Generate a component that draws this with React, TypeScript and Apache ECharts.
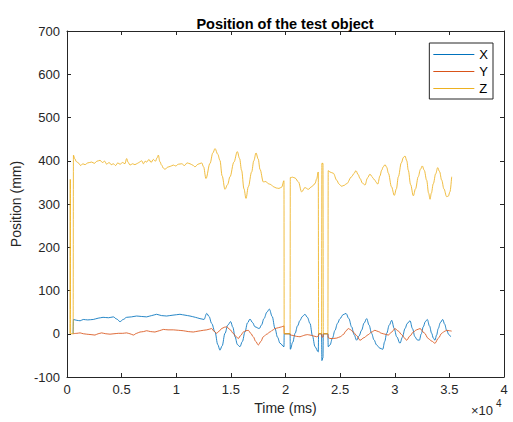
import React, { useEffect, useRef } from "react";
import * as echarts from "echarts";

// time (ms), value (mm)
const zData: [number, number][] = [
  [270, 0], [300, 357], [330, 0], [560, 0], [590, 413], [700, 405], [860, 398], [1035, 395], [1250, 389], [1450, 393], [1650, 391],
  [1900, 395], [2260, 397], [2500, 394], [2750, 399], [3020, 401], [3250, 396], [3450, 399], [3630, 392], [3850, 396], [4050, 391],
  [4240, 393], [4450, 389], [4650, 395], [4850, 392], [5100, 396], [5300, 393], [5460, 405], [5600, 396], [5770, 390], [6000, 393],
  [6220, 391], [6450, 394], [6650, 397], [6830, 400], [7000, 393], [7150, 399], [7290, 397], [7500, 403], [7700, 396], [7900, 403],
  [8100, 399], [8250, 407], [8360, 413], [8500, 398], [8660, 390], [8820, 383], [8970, 380], [9200, 385], [9450, 387], [9730, 390],
  [9950, 388], [10200, 392], [10500, 393], [10750, 389], [11000, 395], [11260, 393], [11500, 390], [11716, 386], [12000, 392],
  [12330, 395], [12500, 386], [12720, 359], [13090, 394], [13350, 418], [13550, 428], [13800, 415], [14000, 401], [14200, 365],
  [14460, 334], [14700, 345], [14920, 363], [15280, 397], [15590, 421], [15800, 405], [15980, 378], [16200, 335], [16385, 313],
  [16600, 340], [16900, 374], [17100, 400], [17300, 418], [17500, 404], [17670, 380], [17970, 351], [18200, 352], [18430, 347],
  [18650, 345], [18900, 340], [19150, 337], [19400, 336], [19650, 339], [19860, 354], [19880, 0], [20420, 0], [20440, 361],
  [20650, 362], [20880, 360], [21180, 351], [21480, 328], [21780, 338], [22090, 334], [22390, 340], [22700, 347], [22850, 358],
  [23000, 374], [23030, 0], [23300, 0], [23330, 394], [23430, 394], [23460, 0], [23880, 0], [23910, 377], [24070, 374], [24380, 371],
  [24690, 355], [24900, 346], [25140, 341], [25350, 343], [25600, 347], [26050, 363], [26250, 370], [26450, 377], [26650, 368],
  [26820, 359], [27050, 348], [27280, 344], [27500, 360], [27730, 369], [27900, 364], [28030, 359], [28190, 355], [28300, 350],
  [28440, 346], [28650, 365], [28800, 378], [28950, 386], [29110, 391], [29260, 385], [29420, 371], [29700, 340], [29960, 320],
  [30150, 335], [30330, 363], [30600, 395], [30800, 408], [30940, 411], [31100, 400], [31240, 378], [31450, 345], [31700, 319],
  [31900, 335], [32150, 363], [32350, 380], [32520, 388], [32700, 378], [32920, 355], [33100, 325], [33230, 311], [33350, 325],
  [33530, 347], [33750, 370], [33930, 384], [34100, 375], [34300, 355], [34500, 335], [34750, 317], [34900, 318], [35050, 328],
  [35210, 363],
];

const xData: [number, number][] = [
  [560, 0], [590, 33], [900, 31], [1200, 30], [1490, 33], [1900, 32], [2400, 33], [2850, 36], [3300, 38], [3800, 37], [4240, 39],
  [4550, 34], [4850, 28], [5150, 33], [5460, 38], [5900, 39], [6370, 41], [6800, 40], [7290, 39], [7750, 42], [8200, 45],
  [8650, 42], [9120, 41], [9700, 43], [10340, 45], [10800, 43], [11260, 41], [11750, 38], [12170, 35], [12540, 33], [12790, 47],
  [13000, 40], [13240, 24], [13550, 4], [13800, -25], [14000, -38], [14200, -28], [14460, 1], [14720, 20], [14980, 28],
  [15180, 15], [15380, -7], [15600, -25], [15830, -30], [16050, -18], [16290, 4], [16520, 25], [16750, 34], [16980, 26],
  [17210, 16], [17600, 12], [17800, 20], [18030, 35], [18300, 50], [18520, 57], [18780, 40], [19040, 12], [19270, -8],
  [19500, -22], [19860, -30], [19880, 0], [20420, 0], [20440, -36], [20660, -20], [20880, 1], [21100, 18], [21330, 31],
  [21550, 40], [21780, 45], [22000, 38], [22240, 24], [22470, -5], [22700, -30], [23000, -42], [23030, 0], [23300, 0],
  [23330, -62], [23430, -55], [23460, 0], [23880, 0], [23910, -30], [24070, -26], [24300, -10], [24530, 8], [24760, 24],
  [24990, 35], [25270, 44], [25540, 47], [25800, 35], [26050, 16], [26280, -2], [26510, -15], [26740, -5], [26960, 8],
  [27200, 25], [27430, 35], [27650, 20], [27880, 1], [28100, -14], [28340, -26], [28620, -33], [28900, -36], [29080, -18],
  [29260, 1], [29500, 20], [29720, 31], [29950, 12], [30180, -7], [30480, -22], [30700, -8], [30940, 12], [31150, 24],
  [31400, 30], [31620, 12], [31850, -7], [32050, -14], [32250, -15], [32430, 0], [32610, 16], [32800, 28], [32980, 33],
  [33180, 18], [33380, 1], [33530, -10], [33680, -15], [33830, -3], [33980, 12], [34180, 26], [34390, 33], [34570, 22],
  [34750, 8], [34950, -2], [35120, -7],
];

const yData: [number, number][] = [
  [560, 0], [590, 1], [900, 1], [1200, 2], [1500, 0], [1800, -1], [2200, -2], [2560, -3], [2850, 0], [3170, 2], [3550, 0],
  [3940, -1], [4300, 0], [4700, 1], [5100, 1], [5460, 2], [5760, 0], [6070, -3], [6380, 1], [6680, 4], [7000, 5], [7290, 7],
  [7650, 5], [8050, 4], [8450, 7], [8820, 10], [9250, 9], [9730, 9], [10200, 8], [10640, 7], [11100, 5], [11560, 4],
  [12000, 6], [12480, 8], [12790, 9], [13240, 12], [13450, 6], [13700, 1], [13920, 6], [14160, 12], [14400, 15], [14620, 16],
  [14900, 10], [15220, 1], [15450, -6], [15680, -11], [15900, -4], [16140, 4], [16370, 7], [16590, 8], [16820, 1], [17050, -7],
  [17280, -18], [17510, -26], [17740, -18], [17970, -7], [18280, -1], [18580, 4], [18800, 8], [19040, 12], [19350, 14],
  [19650, 16], [19860, 18], [19880, 0], [20420, 0], [20440, -3], [20710, -4], [21000, -6], [21330, -7], [21550, -5],
  [21780, -3], [22000, -2], [22240, -3], [22550, -5], [22850, -7], [23000, -6], [23030, 0], [23300, 0], [23330, -7],
  [23430, -8], [23460, 0], [23880, 0], [23910, -9], [24070, -11], [24380, -11], [24690, -10], [25000, -7], [25290, -2],
  [25520, 6], [25750, 12], [25980, 9], [26200, 4], [26500, -4], [26820, -15], [27200, -9], [27580, -2], [27880, 4],
  [28190, 8], [28500, 5], [28800, 1], [29100, -1], [29410, -3], [29720, 4], [30020, 12], [30330, 6], [30630, -2],
  [30860, -9], [31090, -15], [31400, -5], [31700, 4], [32000, 9], [32310, 12], [32700, 2], [33070, -11], [33380, -17],
  [33680, -22], [34000, -10], [34300, 1], [34520, 5], [34750, 8], [35000, 7], [35210, 6],
];

const xTicks = [0, 5000, 10000, 15000, 20000, 25000, 30000, 35000, 40000];
const seriesNames = ["X", "Y", "Z"];

const FONT = "Liberation Sans, Arial, Helvetica, sans-serif";
const AX = "#262626";

export default function App() {
  const ref = useRef<HTMLDivElement>(null);
  useEffect(() => {
    if (!ref.current) return;
    const chart = echarts.init(ref.current, null, { renderer: "svg" });
    const tickStyle = { inside: true, length: 4, lineStyle: { color: AX, width: 1 } };
    const axLine = { show: true, onZero: false, lineStyle: { color: AX, width: 1 } };
    chart.setOption({
      animation: false,
      backgroundColor: "#ffffff",
      textStyle: { fontFamily: FONT },
      title: {
        text: "Position of the test object",
        left: 280,
        top: 11,
        textAlign: "center",
        textStyle: { fontFamily: FONT, fontSize: 14.5, fontWeight: "bold", color: "#000000" },
      },
      legend: {
        data: seriesNames,
        orient: "vertical",
        right: 20,
        top: 43,
        icon: "rect",
        itemWidth: 41,
        itemHeight: 1,
        itemGap: 4,
        padding: [5, 5, 4, 4],
        borderColor: AX,
        borderWidth: 1,
        backgroundColor: "#ffffff",
        textStyle: { fontFamily: FONT, fontSize: 13, color: "#000000", lineHeight: 12 },
      },
      grid: { left: 67, right: 9, top: 31, bottom: 45, containLabel: false },
      xAxis: [
        {
          type: "value",
          min: 0,
          max: 40000,
          interval: 5000,
          name: "Time (ms)",
          nameLocation: "middle",
          nameGap: 24,
          nameTextStyle: { fontFamily: FONT, fontSize: 14, color: AX },
          axisLine: axLine,
          axisTick: tickStyle,
          axisLabel: {
            fontFamily: FONT,
            fontSize: 13,
            color: AX,
            margin: 6,
            formatter: (v: number) => (xTicks.includes(v) ? String(v / 10000) : ""),
          },
          splitLine: { show: false },
        },
        {
          type: "value",
          position: "top",
          min: 0,
          max: 40000,
          interval: 5000,
          axisLine: axLine,
          axisTick: tickStyle,
          axisLabel: { show: false },
          splitLine: { show: false },
        },
      ],
      yAxis: [
        {
          type: "value",
          min: -100,
          max: 700,
          interval: 100,
          name: "Position (mm)",
          nameLocation: "middle",
          nameGap: 36,
          nameTextStyle: { fontFamily: FONT, fontSize: 14, color: AX },
          axisLine: axLine,
          axisTick: tickStyle,
          axisLabel: { fontFamily: FONT, fontSize: 13, color: AX, margin: 7 },
          splitLine: { show: false },
        },
        {
          type: "value",
          position: "right",
          min: -100,
          max: 700,
          interval: 100,
          axisLine: axLine,
          axisTick: tickStyle,
          axisLabel: { show: false },
          splitLine: { show: false },
        },
      ],
      series: [
        { name: "X", type: "line", data: xData, color: "#0072BD" },
        { name: "Y", type: "line", data: yData, color: "#D95319" },
        { name: "Z", type: "line", data: zData, color: "#EDB120" },
      ].map((s) => ({
        ...s,
        xAxisIndex: 0,
        yAxisIndex: 0,
        symbol: "none",
        showSymbol: false,
        smooth: 0.35,
        smoothMonotone: "x",
        lineStyle: { width: 1, color: s.color, opacity: 0.85 },
        itemStyle: { color: s.color },
      })),
      graphic: [
        {
          type: "text",
          left: 471,
          top: 404,
          style: { text: "×10", fontFamily: FONT, fontSize: 13, fill: AX },
        },
        {
          type: "text",
          left: 496,
          top: 398,
          style: { text: "4", fontFamily: FONT, fontSize: 10, fill: AX },
        },
      ],
    });
    return () => chart.dispose();
  }, []);
  return (
    <div
      ref={ref}
      style={{ position: "fixed", left: 0, top: 0, width: 513, height: 422, background: "#fff" }}
    />
  );
}
